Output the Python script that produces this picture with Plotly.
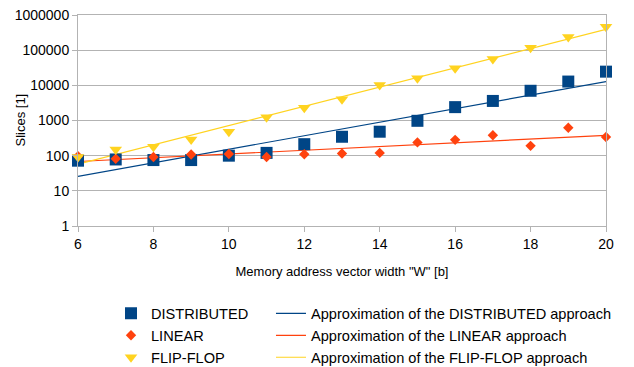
import numpy as np
import plotly.graph_objects as go

# ---- data ----
widths = [6, 7, 8, 9, 10, 11, 12, 13, 14, 15, 16, 17, 18, 19, 20]
distributed = [72, 78, 75, 75, 100, 120, 212, 345, 480, 980, 2400, 3600, 7000, 12800, 24500]
linear = [97, 82, 92, 108, 112, 92, 110, 115, 120, 238, 282, 380, 190, 620, 340]
flipflop = [92, 150, 178, 290, 480, 1230, 2300, 4050, 10200, 15800, 30400, 56000, 117000, 236000, 465000]

y_tick_vals = [1, 10, 100, 1000, 10000, 100000, 1000000]
y_tick_text = ["1", "10", "100", "1000", "10000", "100000", "1000000"]
x_tick_vals = [6, 8, 10, 12, 14, 16, 18, 20]

series_names = ["DISTRIBUTED", "LINEAR", "FLIP-FLOP"]
approx_names = ["Approximation of the DISTRIBUTED approach",
                "Approximation of the LINEAR approach",
                "Approximation of the FLIP-FLOP approach"]
colors = ["#004586", "#ff420e", "#ffd320"]
symbols = ["square", "diamond", "triangle-down"]
sizes = [12, 8, 11]

FONT = "Liberation Sans, Arial, sans-serif"

fig = go.Figure()
x_arr = np.array(widths, dtype=float)

for aname, ys, col in zip(approx_names, [distributed, linear, flipflop], colors):
    k, b = np.polyfit(x_arr, np.log10(np.array(ys, dtype=float)), 1)
    xs = np.array([widths[0], widths[-1]], dtype=float)
    fig.add_trace(go.Scatter(
        x=xs, y=10 ** (k * xs + b), mode="lines", name=aname,
        line=dict(color=col, width=1.2),
        legend="legend2",
    ))

for name, ys, col, sym, sz in zip(series_names, [distributed, linear, flipflop], colors, symbols, sizes):
    fig.add_trace(go.Scatter(
        x=widths, y=ys, mode="markers", name=name, cliponaxis=False,
        marker=dict(symbol=sym, size=sz, color=col, line=dict(width=0)),
        legend="legend",
    ))

fig.update_layout(
    width=634, height=367,
    margin=dict(l=78, r=28, t=15, b=141, autoexpand=False),
    paper_bgcolor="white", plot_bgcolor="white",
    font=dict(family=FONT, size=14, color="#000000"),
    xaxis=dict(
        range=[6, 20], tickvals=x_tick_vals,
        showgrid=False, zeroline=False, automargin=False,
        showline=True, linecolor="#b3b3b3", linewidth=1, mirror=True,
        ticks="outside", ticklen=5, tickcolor="#b3b3b3",
        tickfont=dict(size=14),
        title=dict(text='Memory address vector width "W" [b]', font=dict(size=13), standoff=16),
    ),
    yaxis=dict(
        type="log", range=[0, 6], tickvals=y_tick_vals, ticktext=y_tick_text,
        showgrid=True, gridcolor="#b3b3b3", gridwidth=1, zeroline=False, automargin=False,
        showline=True, linecolor="#b3b3b3", linewidth=1, mirror=True,
        ticks="outside", ticklen=5, tickcolor="#b3b3b3",
        tickfont=dict(size=14),
    ),
    annotations=[dict(
        text="Slices [1]", textangle=-90, showarrow=False,
        xref="paper", yref="paper", x=-0.1098, y=0.5,
        xanchor="center", yanchor="middle", font=dict(size=13),
    )],
    legend=dict(
        x=0.0625, y=-0.338, xanchor="left", yanchor="top",
        orientation="v", tracegroupgap=0, bgcolor="rgba(0,0,0,0)",
        font=dict(size=14.6),
    ),
    legend2=dict(
        x=0.3655, y=-0.338, xanchor="left", yanchor="top",
        orientation="v", tracegroupgap=0, bgcolor="rgba(0,0,0,0)",
        font=dict(size=14.6),
    ),
)

fig.write_html("out.html")
